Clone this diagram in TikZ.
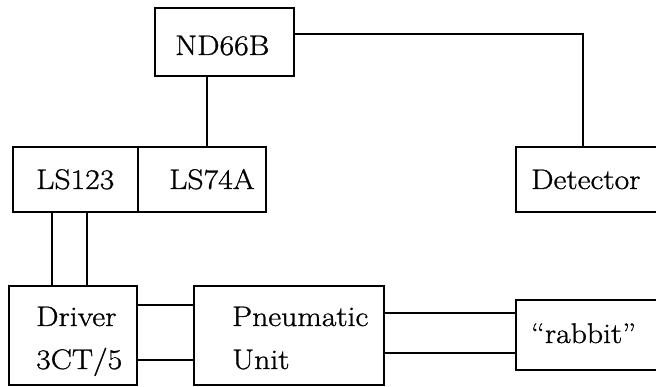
\documentclass[tikz,border=0pt]{standalone}
\usepackage{fontspec}
\newfontfamily\diagfont{Latin Modern Roman}[FakeStretch=1.12,FakeBold=1.0]
\begin{document}
\begin{tikzpicture}[x=1pt,y=-1pt,
  box/.style={draw, line width=2.1pt, inner sep=0pt, rectangle},
  lbl/.style={anchor=base west, inner sep=0pt, font={\diagfont\fontsize{28.3}{32}\selectfont}},
  wire/.style={line width=2pt}]
\useasboundingbox (0,0) rectangle (656,387);
\clip (0,0) rectangle (656,387);
% boxes
\node[box, minimum width=139pt, minimum height=68pt] (nd) at (224.5,42) {};
\node[box, minimum width=125pt, minimum height=65pt] (ls123) at (75.5,179.5) {};
\node[box, minimum width=128pt, minimum height=65pt] (ls74) at (202,179.5) {};
\node[box, minimum width=164pt, minimum height=65pt] (det) at (598,179.5) {};
\node[box, minimum width=128pt, minimum height=99pt] (drv) at (73,335.5) {};
\node[box, minimum width=190pt, minimum height=99pt] (pn) at (289,335.5) {};
\node[box, minimum width=164pt, minimum height=70pt] (rab) at (598,335) {};
% texts
\node[lbl] (tnd) at (175,55) {ND66B};
\node[lbl] (tls123) at (36,189) {LS123};
\node[lbl] (tls74) at (169,189) {LS74A};
\node[lbl] (tdet) at (531,189) {Detector};
\node[lbl] (tdrv1) at (36,326) {Driver};
\node[lbl] (tdrv2) at (36,369) {3CT/5};
\node[lbl] (tpn1) at (232,326) {Pneumatic};
\node[lbl] (tpn2) at (232,369) {Unit};
\node[lbl] (trab) at (531,343) {“rabbit”};
% connectors
\draw[wire, line width=1.5pt] ([yshift=8pt]nd.east) -| ([xshift=68pt]det.north west);
\draw[wire] ([xshift=5pt]ls74.north) -- ([xshift=5pt]ls74.north |- nd.south);
\draw[wire] ([xshift=-23.5pt]ls123.south) -- ([xshift=-23.5pt]ls123.south |- drv.north);
\draw[wire] ([xshift=11.5pt]ls123.south) -- ([xshift=11.5pt]ls123.south |- drv.north);
\draw[wire] ([yshift=30.5pt]drv.east) -- ([yshift=30.5pt]drv.east -| pn.west);
\draw[wire] ([yshift=-24.5pt]drv.east) -- ([yshift=-24.5pt]drv.east -| pn.west);
\draw[wire] ([yshift=22.5pt]pn.east) -- ([yshift=22.5pt]pn.east -| rab.west);
\draw[wire] ([yshift=-17.5pt]pn.east) -- ([yshift=-17.5pt]pn.east -| rab.west);
\end{tikzpicture}
\end{document}
